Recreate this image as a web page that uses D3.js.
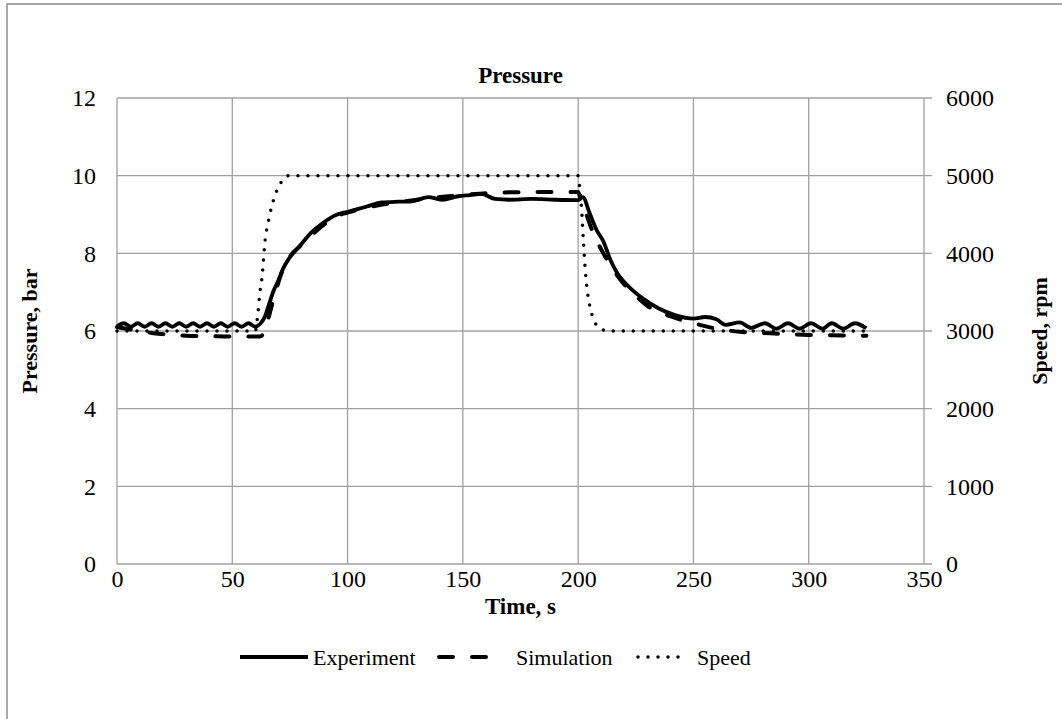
<!DOCTYPE html>
<html>
<head>
<meta charset='utf-8'>
<title>Pressure</title>
<style>
	body {margin: 0; background: #fff}
	svg {display: block}
	.grid line {stroke: #a0a0a0; stroke-width: 1.3px}
	.frame {fill: none; stroke: #8c8c8c; stroke-width: 1.5px}
	.series {fill: none; stroke: #000}
</style>
</head>
<body>
<script src='https://cdn.jsdelivr.net/npm/d3@7/dist/d3.min.js'></script>
<script>

var W = 1062, H = 719;
var margin = {left: 117, right: 138, top: 98, bottom: 155};
var FONT = '"Liberation Serif", "Times New Roman", serif';

// time axis, s
var xTicks = [0, 50, 100, 150, 200, 250, 300, 350];
var yTicks = [0, 2, 4, 6, 8, 10, 12];
var y2Ticks = [0, 1000, 2000, 3000, 4000, 5000, 6000];

// Experiment pressure, bar
var expT = [0,3,6,9,12,15,18,21,24,27,30,33,36,39,42,45,48,51,54,57,60,62,64,66,68,70,72,75,79,84,89,95,100,108,115,122,128,135,141,148,153,158,164,170,180,190,200,202,205,208,211,214,217,222,228,235,242,250,255,260,264,270,275,281,286,291,296,301,306,310,315,320,325];
var expP = [6.12,6.2,6.11,6.2,6.11,6.2,6.11,6.2,6.11,6.2,6.11,6.2,6.11,6.2,6.11,6.2,6.11,6.2,6.11,6.2,6.11,6.18,6.35,6.7,7.05,7.3,7.6,7.9,8.17,8.52,8.77,8.99,9.07,9.2,9.31,9.33,9.34,9.45,9.38,9.47,9.5,9.53,9.4,9.38,9.4,9.38,9.37,9.45,9.03,8.6,8.3,7.83,7.49,7.14,6.84,6.58,6.41,6.32,6.36,6.3,6.16,6.22,6.08,6.2,6.06,6.2,6.06,6.2,6.06,6.2,6.06,6.2,6.07];

// Simulation pressure, bar
var simT = [0,5,10,15,20,30,40,50,62,64,66,68,70,72,75,80,85,90,95,100,110,120,130,140,150,160,170,185,200,201,203,206,210,215,220,225,230,240,250,260,270,280,300,325];
var simP = [6.1,6.05,6.0,5.95,5.92,5.88,5.87,5.86,5.86,6.0,6.4,6.85,7.25,7.6,7.92,8.22,8.5,8.75,8.95,9.05,9.2,9.3,9.38,9.45,9.5,9.55,9.57,9.58,9.58,9.42,9.1,8.6,8.1,7.6,7.2,6.9,6.65,6.38,6.2,6.06,5.98,5.95,5.9,5.88];

// Speed, rpm
var spdT = [0,60,61,62,63,64,66,68,70,72,74,200,200.7,201.5,202.2,203,203.8,205,207,210,214,325];
var spdV = [3000,3000,3200,3500,3720,4100,4460,4700,4850,4950,5000,5000,4830,4570,4200,3820,3560,3330,3130,3025,3000,3000];

var legendNames = ["Experiment", "Simulation", "Speed"];

var pw = W - margin.left - margin.right;
var ph = H - margin.top - margin.bottom;

var svg = d3.select('body').append('svg').attr('width', W).attr('height', H)
	.style('font-family', FONT);

// outer chart border (runs off the right and bottom edge)
svg.append('rect').attr('class', 'frame')
	.attr('x', 7).attr('y', 4).attr('width', W + 20).attr('height', H + 20);

var x = d3.scaleLinear().domain([0, 350]).range([0, pw]);
var y = d3.scaleLinear().domain([0, 12]).range([ph, 0]);
var y2 = d3.scaleLinear().domain([0, 6000]).range([ph, 0]);

var g = svg.append('g').attr('transform', 'translate(' + margin.left + ',' + margin.top + ')');

// gridlines
var grid = g.append('g').attr('class', 'grid');
grid.selectAll('line.h').data(yTicks).enter().append('line')
	.attr('x1', 0).attr('x2', pw + 8)
	.attr('y1', function(d) {return y(d);}).attr('y2', function(d) {return y(d);});
grid.selectAll('line.v').data(xTicks).enter().append('line')
	.attr('y1', 0).attr('y2', ph)
	.attr('x1', function(d) {return x(d);}).attr('x2', function(d) {return x(d);});

// axes (labels only, lines come from the grid)
var fs = 24;
var ax = g.append('g').attr('transform', 'translate(0,' + ph + ')')
	.call(d3.axisBottom(x).tickValues(xTicks).tickSize(0).tickPadding(6));
var ay = g.append('g')
	.call(d3.axisLeft(y).tickValues(yTicks).tickSize(0).tickPadding(21));
var ay2 = g.append('g').attr('transform', 'translate(' + pw + ',0)')
	.call(d3.axisRight(y2).tickValues(y2Ticks).tickFormat(d3.format('d')).tickSize(0).tickPadding(22));
[ax, ay, ay2].forEach(function(a) {
	a.attr('font-family', null).attr('font-size', null);
	a.select('.domain').remove();
	a.selectAll('text').style('font-size', fs + 'px').style('font-family', FONT).attr('fill', '#000');
});

// series
var lineP = function(ts, vs) {
	return d3.line().curve(d3.curveMonotoneX)
		.x(function(d, i) {return x(ts[i]);})
		.y(function(d, i) {return y(vs[i]);})(vs);
};
var lineS = d3.line().curve(d3.curveMonotoneX)
	.x(function(d, i) {return x(spdT[i]);})
	.y(function(d) {return y2(d);});

g.append('path').attr('class', 'series').attr('d', lineS(spdV))
	.attr('stroke-width', 3.5).attr('stroke-dasharray', '0 10').attr('stroke-linecap', 'round');
g.append('path').attr('class', 'series').attr('d', lineP(simT, simP))
	.attr('stroke-width', 4).attr('stroke-dasharray', '14 19').attr('stroke-linecap', 'round');
g.append('path').attr('class', 'series').attr('d', lineP(expT, expP))
	.attr('stroke-width', 3.8).attr('stroke-linejoin', 'round');

// titles
function label(sel, size) {
	return sel.attr('text-anchor', 'middle').style('font-size', size + 'px')
		.style('font-weight', 'bold').style('font-family', FONT);
}
label(svg.append('text').attr('x', margin.left + pw / 2).attr('y', 83), 23).text('Pressure');
label(svg.append('text').attr('x', margin.left + pw / 2).attr('y', 614), 23).text('Time, s');
label(svg.append('text').attr('transform', 'translate(37,' + (margin.top + ph / 2) + ') rotate(-90)'), 22)
	.text('Pressure, bar');
label(svg.append('text').attr('transform', 'translate(1047,' + (margin.top + ph / 2) + ') rotate(-90)'), 22)
	.text('Speed, rpm');

// legend
var legX = [240, 439, 638];
var legLen = [68, 64, 50];
var legTx = [313, 516, 697];
var legStyle = [
	{w: 3.8, dash: null, cap: 'butt'},
	{w: 4, dash: '14 19', cap: 'round'},
	{w: 3.5, dash: '0 10', cap: 'round'}
];
var leg = svg.append('g');
legendNames.forEach(function(name, i) {
	var s = legStyle[i];
	leg.append('line').attr('x1', legX[i]).attr('x2', legX[i] + legLen[i])
		.attr('y1', 657).attr('y2', 657)
		.attr('stroke', '#000').attr('stroke-width', s.w)
		.attr('stroke-dasharray', s.dash).attr('stroke-linecap', s.cap);
	leg.append('text').attr('x', legTx[i]).attr('y', 665)
		.style('font-size', '22px').style('font-family', FONT).text(name);
});

</script>
</body>
</html>
